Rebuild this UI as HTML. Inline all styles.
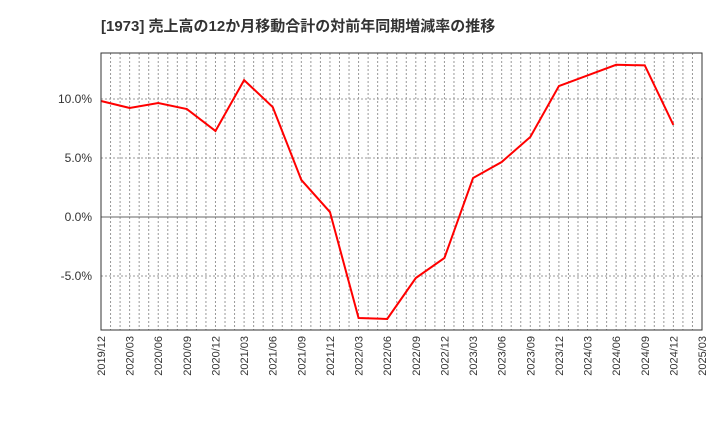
<!DOCTYPE html>
<html><head><meta charset="utf-8"><style>
body{margin:0;background:#fff;}
svg{display:block;font-family:"Liberation Sans","Noto Sans CJK JP",sans-serif;}
</style></head><body>
<svg id="chart" width="720" height="440">
<text x="101" y="31" font-size="15" font-weight="bold" fill="#333">[1973]  売上高の12か月移動合計の対前年同期増減率の推移</text>
<g id="grid"></g>
<g id="axes"></g>
<polyline id="line" fill="none" stroke="#f00" stroke-width="2"/>
<rect x="101" y="53" width="601" height="277" fill="none" stroke="#333" stroke-width="1"/>
</svg>
<script>
const categories=["2019/12","2020/03","2020/06","2020/09","2020/12","2021/03","2021/06","2021/09","2021/12","2022/03","2022/06","2022/09","2022/12","2023/03","2023/06","2023/09","2023/12","2024/03","2024/06","2024/09","2024/12","2025/03"];
const values=[9.83,9.24,9.66,9.15,7.29,11.6,9.32,3.14,0.42,-8.56,-8.64,-5.17,-3.47,3.3,4.66,6.78,11.1,12.0,12.9,12.85,7.8];
const yTicks=[-5,0,5,10];
const yTickLabels=["-5.0%","0.0%","5.0%","10.0%"];
const L=101,R=702,T=53,B=330;
const ns="http://www.w3.org/2000/svg";
const step=(R-L)/(categories.length-1);
const xs=i=>L+i*step;
const ys=v=>217-v*11.8;
const grid=document.getElementById('grid'),axes=document.getElementById('axes');
function mk(t,a,p){const e=document.createElementNS(ns,t);for(const k in a)e.setAttribute(k,a[k]);p.appendChild(e);return e;}
for(let m=1;m<(categories.length-1)*3;m++){
  const x=L+m*step/3;
  const l=mk('line',{x1:x,x2:x,y1:T,y2:B,stroke:'#999','stroke-dasharray':'2,2','stroke-width':1},grid);
  
  
}
yTicks.forEach((v,i)=>{
  const y=ys(v);
  const l=mk('line',{x1:L,x2:R,y1:y,y2:y,stroke:v===0?'#666':'#999','stroke-dasharray':v===0?'':'2,2','stroke-width':1},grid);
  
  
  const t=mk('text',{x:L-9,y:y+4,'text-anchor':'end','font-size':12,fill:'#333'},axes);
  t.textContent=yTickLabels[i];
  
  
});
categories.forEach((c,i)=>{
  const x=xs(i);
  const t=mk('text',{x:0,y:0,'text-anchor':'end','font-size':11,fill:'#333',transform:`translate(${x+4},${B+6}) rotate(-90)`},axes);
  t.textContent=c;
  
  
});
document.getElementById('line').setAttribute('points',values.map((v,i)=>xs(i)+','+ys(v)).join(' '));
</script>
</body></html>
